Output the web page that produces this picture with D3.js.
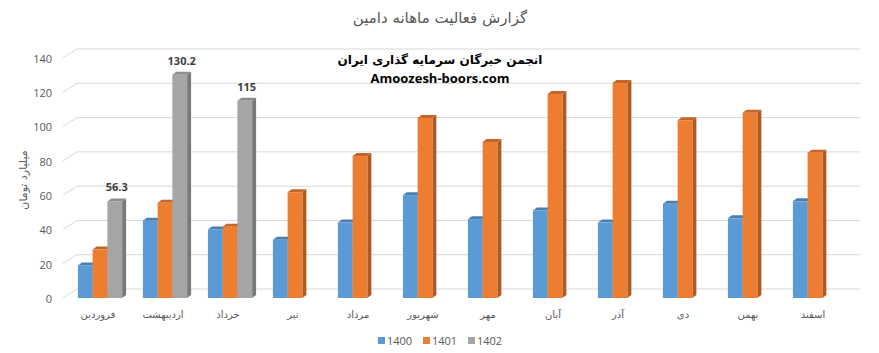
<!DOCTYPE html>
<html>
<head>
<meta charset="utf-8">
<script src="https://cdn.jsdelivr.net/npm/d3@7"></script>
<style>
  body { margin: 0; background: #fff; }
  svg { display: block; }
  text { font-family: "Open Sans", "DejaVu Sans", sans-serif; }
</style>
</head>
<body>
<div id="chart"></div>
<script>
const months = ['فروردین', 'اردیبهشت', 'خرداد', 'تیر', 'مرداد', 'شهریور', 'مهر', 'آبان', 'آذر', 'دی', 'بهمن', 'اسفند'];
const seriesNames = ['1400', '1401', '1402'];
const values1400 = [19, 45, 40, 34, 44, 60, 46, 51, 44, 55, 46.5, 56.4];
const values1401 = [28.3, 55.5, 41.6, 61.7, 82.8, 105, 91, 119, 125.4, 103.7, 108, 84.8];
const values1402 = [56.3, 130.2, 115, null, null, null, null, null, null, null, null, null];
const yTicks = [0, 20, 40, 60, 80, 100, 120, 140];

const colors = {
  '1400': { front: '#5B9BD5', side: '#41719C', top: '#4A7FB0' },
  '1401': { front: '#ED7D31', side: '#AE5A21', top: '#C4652A' },
  '1402': { front: '#A5A5A5', side: '#7A7A7A', top: '#8C8C8C' },
};

const width = 879;
const height = 353;
const depth = { dx: 4, dy: -3 };   // bar depth
const wall = { dx: 14, dy: -9 };   // gridline wall offset

const svg = d3.select('#chart')
  .append('svg')
  .attr('width', width)
  .attr('height', height);

const x = d3.scaleBand()
  .domain(months)
  .range([67.5, 847.5])
  .paddingInner(0.32)
  .paddingOuter(0.16);

const xSeries = d3.scaleBand()
  .domain(seriesNames)
  .range([0, x.bandwidth()]);

const y = d3.scaleLinear().domain([0, 140]).range([298, 58]);

// gridlines (back wall)
svg.append('g')
  .selectAll('path')
  .data(yTicks)
  .join('path')
  .attr('d', d => `M63,${y(d)} L${63 + wall.dx},${y(d) + wall.dy} L860,${y(d) + wall.dy}`)
  .attr('fill', 'none')
  .attr('stroke', '#D9D9D9')
  .attr('stroke-width', 1);

// y tick labels
svg.append('g')
  .selectAll('text')
  .data(yTicks)
  .join('text')
  .attr('x', 52)
  .attr('y', d => y(d) + 1)
  .attr('dy', '0.35em')
  .attr('text-anchor', 'end')
  .attr('fill', '#595959')
  .style('font-size', '11px')
  .text(d => d);

// bars
const rows = months.map((m, i) => ({
  month: m,
  vals: [
    { key: '1400', v: values1400[i] },
    { key: '1401', v: values1401[i] },
    { key: '1402', v: values1402[i] },
  ].filter(d => d.v != null),
}));

const groups = svg.append('g')
  .selectAll('g')
  .data(rows)
  .join('g')
  .attr('transform', d => `translate(${x(d.month)},0)`);

const bars = groups.selectAll('g')
  .data(d => d.vals)
  .join('g');

bars.each(function (d) {
  const g = d3.select(this);
  const x0 = xSeries(d.key);
  const w = xSeries.bandwidth();
  const yt = y(d.v);
  const yb = y(0);
  const c = colors[d.key];
  // side
  g.append('path')
    .attr('d', `M${x0 + w},${yt} L${x0 + w + depth.dx},${yt + depth.dy} L${x0 + w + depth.dx},${yb + depth.dy} L${x0 + w},${yb} Z`)
    .attr('fill', c.side);
  // top
  g.append('path')
    .attr('d', `M${x0},${yt} L${x0 + depth.dx},${yt + depth.dy} L${x0 + w + depth.dx},${yt + depth.dy} L${x0 + w},${yt} Z`)
    .attr('fill', c.top);
  // front
  g.append('rect')
    .attr('x', x0)
    .attr('y', yt)
    .attr('width', w)
    .attr('height', yb - yt)
    .attr('fill', c.front);
});

// data labels for 1402
groups.selectAll('text.lbl')
  .data(d => d.vals.filter(v => v.key === '1402'))
  .join('text')
  .attr('class', 'lbl')
  .attr('x', d => xSeries(d.key) + xSeries.bandwidth() / 2 + 2)
  .attr('y', d => y(d.v) - 10)
  .attr('text-anchor', 'middle')
  .attr('fill', '#404040')
  .style('font-size', '11px')
  .style('font-weight', 'bold')
  .text(d => d.v);

// x labels
svg.append('g')
  .selectAll('text')
  .data(months)
  .join('text')
  .attr('x', d => x(d) + x.bandwidth() / 2 - 2)
  .attr('y', 318)
  .attr('text-anchor', 'middle')
  .attr('fill', '#595959')
  .style('font-family', '"DejaVu Sans", sans-serif')
  .style('font-size', '10px')
  .text(d => d);

// title
svg.append('text')
  .attr('x', 440)
  .attr('y', 23)
  .attr('text-anchor', 'middle')
  .attr('fill', '#595959')
  .style('font-family', '"DejaVu Sans", sans-serif')
  .style('font-size', '15px')
  .text('گزارش فعالیت ماهانه دامین');

// watermark
svg.append('text')
  .attr('x', 440)
  .attr('y', 64)
  .attr('text-anchor', 'middle')
  .attr('fill', '#000')
  .style('font-family', '"DejaVu Sans", sans-serif')
  .style('font-size', '12px')
  .style('font-weight', 'bold')
  .text('انجمن خبرگان سرمایه گذاری ایران');

svg.append('text')
  .attr('x', 440)
  .attr('y', 83)
  .attr('text-anchor', 'middle')
  .attr('fill', '#000')
  .style('font-size', '13px')
  .style('font-weight', 'bold')
  .text('Amoozesh-boors.com');

// y axis title
svg.append('text')
  .attr('transform', 'translate(27,180) rotate(-90)')
  .attr('text-anchor', 'middle')
  .attr('fill', '#595959')
  .style('font-family', '"DejaVu Sans", sans-serif')
  .style('font-size', '11px')
  .text('میلیارد تومان');

// legend
const legend = svg.append('g')
  .selectAll('g')
  .data(seriesNames)
  .join('g')
  .attr('transform', (d, i) => `translate(${378 + i * 45},337)`);

legend.append('rect')
  .attr('width', 7)
  .attr('height', 7)
  .attr('fill', d => colors[d].front);

legend.append('text')
  .attr('x', 9)
  .attr('y', 4)
  .attr('dy', '0.35em')
  .attr('fill', '#595959')
  .style('font-size', '11px')
  .text(d => d);
</script>
</body>
</html>
